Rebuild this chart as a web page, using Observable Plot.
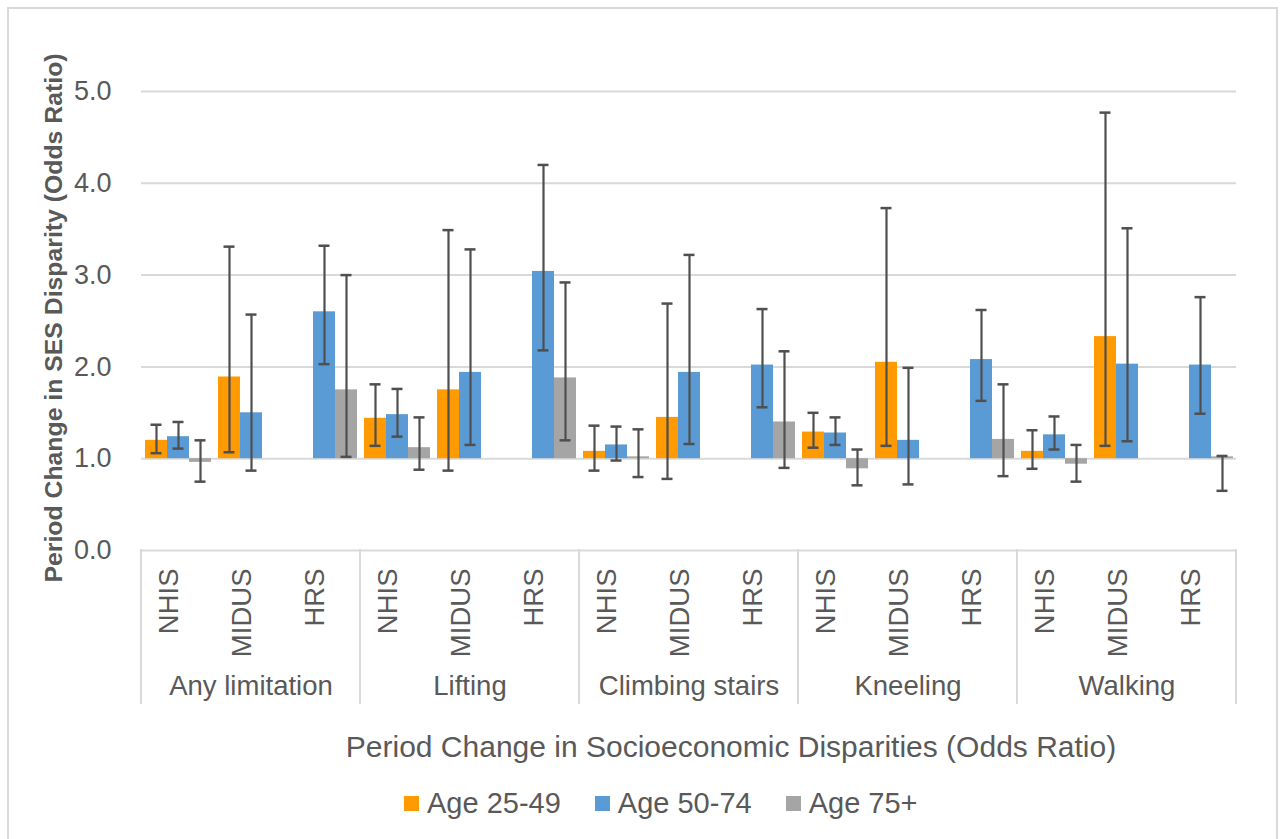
<!DOCTYPE html>
<html>
<head>
<meta charset="utf-8">
<script src="https://cdn.jsdelivr.net/npm/d3@7"></script>
<script src="https://cdn.jsdelivr.net/npm/@observablehq/plot@0.6"></script>
<style>
  html, body { margin: 0; padding: 0; background: #fff; }
  body { width: 1285px; height: 839px; position: relative; overflow: hidden; font-family: "Liberation Sans", Arial, sans-serif; }
  #frame { position: absolute; left: 7px; top: 7px; width: 1271px; height: 900px; border: 2px solid #d9d9d9; box-sizing: border-box; }
  #chart { position: absolute; left: 0; top: 0; }
  #xtitle { position: absolute; left: 131px; width: 1200px; top: 732px; text-align: center; font-size: 30px; line-height: 30px; color: #595959; white-space: nowrap; }
  #legend { position: absolute; left: 404px; top: 789px; display: flex; gap: 34px; font-size: 29px; line-height: 29px; color: #595959; white-space: nowrap; }
  #legend .item { display: flex; align-items: center; }
  #legend .sw { width: 15px; height: 15px; margin-right: 8px; }
</style>
</head>
<body>
<div id="frame"></div>
<div id="chart"></div>
<div id="xtitle"></div>
<div id="legend"></div>
<script>
// ---- data ----
const groups = ["Any limitation", "Lifting", "Climbing stairs", "Kneeling", "Walking"];
const surveys = ["NHIS", "MIDUS", "HRS"];
const ages = ["Age 25-49", "Age 50-74", "Age 75+"];
const colors = ["#FF9A00", "#5B9BD5", "#A5A5A5"];
const yTicks = [0, 1, 2, 3, 4, 5];
const baseline = 1; // odds ratio of no change
const yTitle = "Period Change in SES Disparity (Odds Ratio)";
const xTitle = "Period Change in Socioeconomic Disparities (Odds Ratio)";

// order: group-major, then NHIS, MIDUS, HRS (null = not available)
const or2549 = [1.20, 1.89, null, 1.44, 1.75, null, 1.08, 1.45, null, 1.29, 2.05, null, 1.08, 2.33, null];
const lo2549 = [1.06, 1.07, null, 1.14, 0.87, null, 0.87, 0.78, null, 1.12, 1.14, null, 0.89, 1.14, null];
const hi2549 = [1.37, 3.31, null, 1.81, 3.49, null, 1.36, 2.69, null, 1.50, 3.73, null, 1.31, 4.77, null];

const or5074 = [1.24, 1.50, 2.60, 1.48, 1.94, 3.04, 1.15, 1.94, 2.02, 1.28, 1.20, 2.08, 1.26, 2.03, 2.02];
const lo5074 = [1.11, 0.87, 2.03, 1.24, 1.15, 2.18, 0.98, 1.16, 1.56, 1.15, 0.72, 1.63, 1.10, 1.19, 1.49];
const hi5074 = [1.40, 2.57, 3.32, 1.76, 3.28, 4.20, 1.35, 3.22, 2.63, 1.45, 1.99, 2.62, 1.46, 3.51, 2.76];

const or75 = [0.96, null, 1.75, 1.12, null, 1.88, 1.02, null, 1.40, 0.89, null, 1.21, 0.94, null, 1.02];
const lo75 = [0.75, null, 1.02, 0.88, null, 1.20, 0.80, null, 0.90, 0.71, null, 0.81, 0.75, null, 0.65];
const hi75 = [1.20, null, 3.00, 1.45, null, 2.92, 1.32, null, 2.17, 1.10, null, 1.81, 1.15, null, 1.03];

// ---- table ----
const keys = groups.flatMap(g => surveys.map(s => g + "|" + s));
const series = [[or2549, lo2549, hi2549], [or5074, lo5074, hi5074], [or75, lo75, hi75]];
const rows = [];
keys.forEach((key, i) => {
  series.forEach(([orv, lov, hiv], a) => {
    if (orv[i] != null) rows.push({key, age: ages[a], or: orv[i], lo: lov[i], hi: hiv[i]});
  });
});

const ink = "#595959";
const err = "#4f4f4f";

const plot = Plot.plot({
  width: 1285,
  height: 720,
  marginLeft: 136,
  marginRight: 45,
  marginTop: 91,
  marginBottom: 170,
  style: {fontFamily: '"Liberation Sans", Arial, sans-serif', background: "transparent", overflow: "visible"},
  fx: {domain: keys, padding: 0, axis: null},
  x: {domain: ages, paddingInner: 0, paddingOuter: 0.143, axis: null},
  y: {domain: [0, 5], axis: null},
  color: {domain: ages, range: colors},
  marks: [
    Plot.gridY(yTicks, {stroke: "#d9d9d9", strokeWidth: 2, strokeOpacity: 1}),
    Plot.axisY(yTicks, {tickFormat: d => d.toFixed(1), tickSize: 0, tickPadding: 30, fontSize: 27, fill: ink, label: null}),
    Plot.barY(rows, {fx: "key", x: "age", y1: baseline, y2: "or", fill: "age"}),
    Plot.ruleX(rows, {fx: "key", x: "age", y1: "lo", y2: "hi", stroke: err, strokeWidth: 2.2}),
    Plot.tickY(rows, {fx: "key", x: "age", y: "lo", insetLeft: 5.5, insetRight: 5.5, stroke: err, strokeWidth: 2.5}),
    Plot.tickY(rows, {fx: "key", x: "age", y: "hi", insetLeft: 5.5, insetRight: 5.5, stroke: err, strokeWidth: 2.5}),
    Plot.text(keys, {fx: d => d, text: d => d.split("|")[1], frameAnchor: "bottom", rotate: -90, textAnchor: "end", dy: 18, fontSize: 27.5, fill: ink}),
    Plot.text(groups, {fx: g => g + "|MIDUS", text: d => d, frameAnchor: "bottom", dy: 144, fontSize: 27.5, fill: ink}),
    Plot.text([yTitle], {fx: () => keys[0], text: d => d, frameAnchor: "left", rotate: -90, textAnchor: "middle", dx: -87, dy: -3, fontSize: 24.8, fontWeight: "bold", fill: ink})
  ]
});

// category-axis box: verticals at group boundaries, positioned with the fx scale
const fxs = plot.scale("fx");
const ys = plot.scale("y");
const y0 = ys.apply(0);
const bw = fxs.bandwidth;
const sepX = groups.map(g => fxs.apply(g + "|NHIS")).concat([fxs.apply(keys[keys.length - 1]) + bw]);
const svg = d3.select(plot);
const gsep = svg.append("g");
sepX.forEach(x => {
  gsep.append("line").attr("x1", x).attr("x2", x).attr("y1", y0 - 1).attr("y2", y0 + 154)
    .attr("stroke", "#d9d9d9").attr("stroke-width", 2);
});

document.getElementById("chart").appendChild(plot);
document.getElementById("xtitle").textContent = xTitle;

const legend = d3.select("#legend");
ages.forEach((a, i) => {
  const item = legend.append("div").attr("class", "item");
  item.append("div").attr("class", "sw").style("background", colors[i]);
  item.append("span").text(a);
});
</script>
</body>
</html>
